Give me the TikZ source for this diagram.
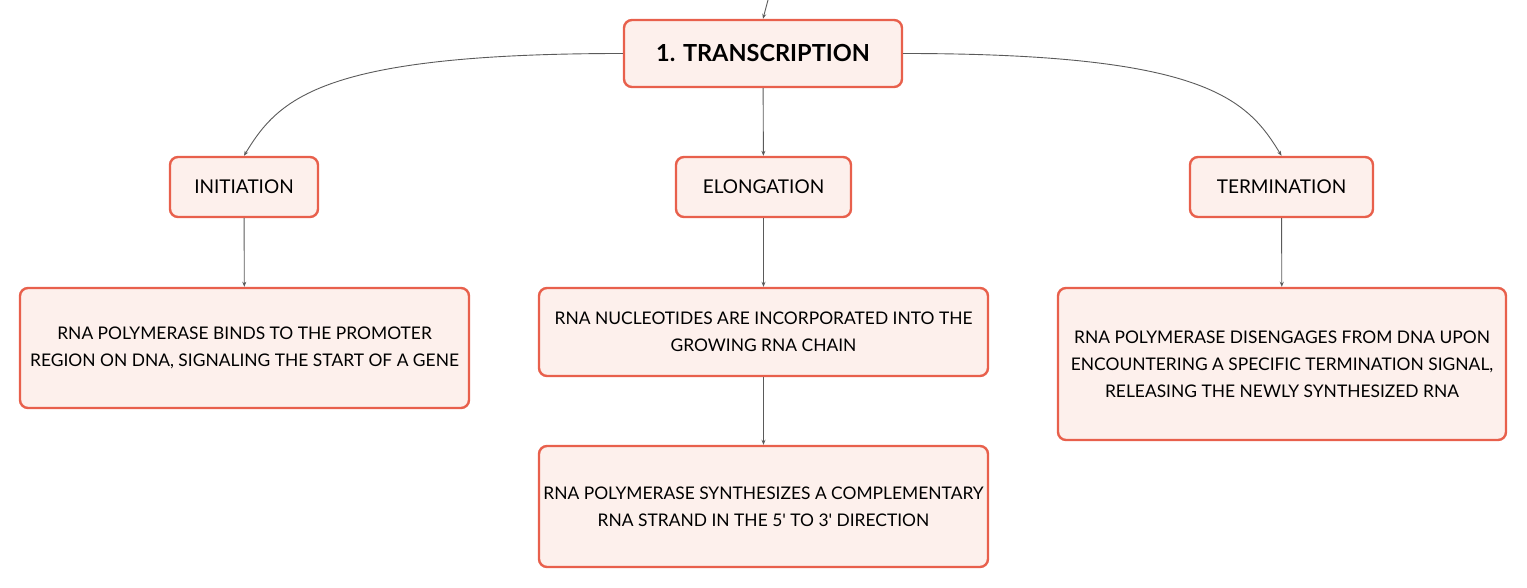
\documentclass[tikz,border=0pt]{standalone}
\usepackage{fontspec}
\setmainfont{Lato}[Ligatures=TeXOff]
\usepackage{xcolor}
\definecolor{coral}{HTML}{E8604C}
\definecolor{blush}{HTML}{FDF0EC}
\definecolor{wire}{HTML}{5A5A5A}
\usepackage{tikz}
\usetikzlibrary{arrows.meta, positioning}

\tikzset{
  card/.style={draw=coral, line width=2.4pt, fill=blush, rounded corners=8pt,
    align=center, inner sep=0pt, font=\fontsize{17.4}{27}\selectfont},
  stage/.style={card, minimum height=60pt, font=\fontsize{19}{23}\selectfont},
  link/.style={draw=wire, line width=0.9pt, -{Stealth[length=5pt,width=4pt]}}
}

\begin{document}
\begin{tikzpicture}[x=1pt, y=-1pt]
  \useasboundingbox (0,0) rectangle (1527,588);

  % Main topic
  \node[card, minimum width=278pt, minimum height=67pt, font=\fontsize{23.5}{28}\selectfont\bfseries]
    (transcription) at (763,53.5) {1. TRANSCRIPTION};
  \coordinate (above) at (768,0);

  % Stages
  \node[stage, minimum width=148pt] (initiation) at (244,187) {INITIATION};
  \node[stage, minimum width=175pt] (elongation) at (763.5,187) {ELONGATION};
  \node[stage, minimum width=183pt] (termination) at (1281.5,187) {TERMINATION};

  % Details
  \node[card, minimum width=449pt, minimum height=120pt] (bind) at (244.5,348)
    {RNA POLYMERASE BINDS TO THE PROMOTER\\REGION ON DNA, SIGNALING THE START OF A GENE};
  \node[card, minimum width=449pt, minimum height=88pt] (grow) at (763.5,332)
    {RNA NUCLEOTIDES ARE INCORPORATED INTO THE\\GROWING RNA CHAIN};
  \node[card, minimum width=449pt, minimum height=121pt] (synth) at (763.5,506.5)
    {RNA POLYMERASE SYNTHESIZES A COMPLEMENTARY\\RNA STRAND IN THE 5' TO 3' DIRECTION};
  \node[card, minimum width=448pt, minimum height=152pt] (release) at (1282,364)
    {RNA POLYMERASE DISENGAGES FROM DNA UPON\\ENCOUNTERING A SPECIFIC TERMINATION SIGNAL,\\RELEASING THE NEWLY SYNTHESIZED RNA};

  % Connectors
  \draw[link] (transcription.west) .. controls +(-300,0) and +(35,-58) .. (initiation.north);
  \draw[link] (transcription.east) .. controls +(300,0) and +(-35,-58) .. (termination.north);
  \draw[link] (above) -- (transcription.north);
  \draw[link] (transcription) -- (elongation);
  \draw[link] (initiation) -- (bind);
  \draw[link] (elongation) -- (grow);
  \draw[link] (grow) -- (synth);
  \draw[link] (termination) -- (release);
\end{tikzpicture}
\end{document}
